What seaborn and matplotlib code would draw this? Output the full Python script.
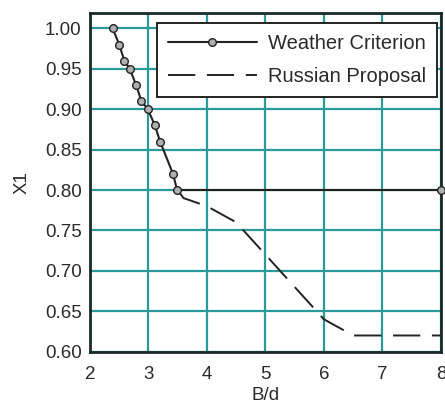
import numpy as np
import pandas as pd
import matplotlib
matplotlib.use("Agg")
import matplotlib.pyplot as plt
import seaborn as sns

# weather criterion curve (B/d vs X1)
weather_bd = [2.39, 2.50, 2.59, 2.68, 2.79, 2.88, 2.99, 3.11, 3.20, 3.42, 3.49, 8.0]
weather_x1 = [1.00, 0.98, 0.96, 0.95, 0.93, 0.91, 0.90, 0.88, 0.86, 0.82, 0.80, 0.80]

# russian proposal curve
russian_bd = [3.5, 3.6, 4.0, 4.5, 5.0, 5.5, 6.0, 6.5, 8.0]
russian_x1 = [0.80, 0.79, 0.78, 0.76, 0.72, 0.68, 0.64, 0.62, 0.62]

x_ticks = [2, 3, 4, 5, 6, 7, 8]
y_ticks = [0.60, 0.65, 0.70, 0.75, 0.80, 0.85, 0.90, 0.95, 1.00]

sns.set_style("white")
plt.rcParams['font.family'] = ['Liberation Sans', 'DejaVu Sans']

grid_color = "#2a9a9a"
text_color = "#2a2a2a"
fs = 13.5
fs_leg = 14.5

fig = plt.figure(figsize=(4.45, 4.07), dpi=100)
ax = fig.add_axes([0.202, 0.136, 0.789, 0.832])

df_w = pd.DataFrame({"B/d": weather_bd, "X1": weather_x1})
df_r = pd.DataFrame({"B/d": russian_bd, "X1": russian_x1})

sns.lineplot(data=df_w, x="B/d", y="X1", ax=ax, color="#222222", linewidth=1.5,
             marker="o", markersize=5.5, markerfacecolor="#b0b0b0",
             markeredgecolor="#222222", markeredgewidth=1.0,
             label="Weather Criterion", clip_on=False, zorder=4)
sns.lineplot(data=df_r, x="B/d", y="X1", ax=ax, color="#222222", linewidth=1.4,
             dashes=False, label="Russian Proposal", zorder=3)
ax.lines[1].set_dashes([14, 6])

ax.set_xlim(2, 8)
ax.set_ylim(0.60, 1.019)
ax.set_xticks(x_ticks)
ax.set_yticks(y_ticks)
ax.set_yticklabels([f"{v:.2f}" for v in y_ticks])
ax.grid(True, color=grid_color, linewidth=1.6)
ax.set_axisbelow(True)

for s in ax.spines.values():
    s.set_color("#1a2a2a")
    s.set_linewidth(2.0)

ax.tick_params(labelsize=fs, colors=text_color, length=0)
ax.tick_params(axis="x", pad=10)
ax.tick_params(axis="y", pad=6)
ax.set_xlabel("B/d", fontsize=fs, color=text_color, labelpad=3)
ax.set_ylabel("X1", fontsize=fs, color=text_color, labelpad=10)

leg = ax.legend(loc="upper right", bbox_to_anchor=(0.988, 0.970),
                fontsize=fs_leg, frameon=True, fancybox=False,
                edgecolor="#222222", framealpha=1, handlelength=4.4,
                borderaxespad=0, labelspacing=0.7, borderpad=0.55,
                handletextpad=0.55)
leg.get_frame().set_linewidth(1.4)
for t in leg.get_texts():
    t.set_color(text_color)

fig.savefig("out.png", dpi=100)
